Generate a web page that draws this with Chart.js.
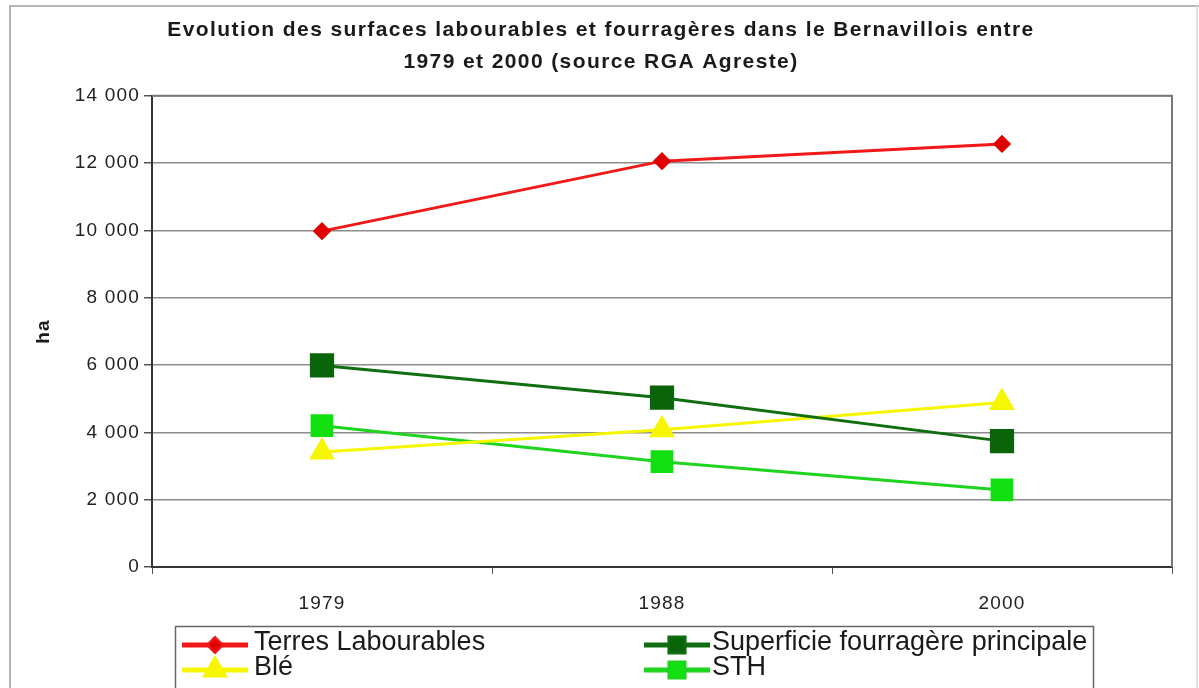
<!DOCTYPE html>
<html>
<head>
<meta charset="utf-8">
<script src="https://cdn.jsdelivr.net/npm/chart.js@4/dist/chart.umd.min.js"></script>
<style>
  html, body { margin: 0; padding: 0; background: #fff; }
  #wrap { width: 1199px; height: 688px; position: relative; }
</style>
</head>
<body>
<div id="wrap"><canvas id="lineChart" width="1199" height="688"></canvas></div>
<script>
const years = ['1979', '1988', '2000'];
const terresLabourables = [9980, 12060, 12570];
const superficieFourragere = [5990, 5030, 3740];
const ble = [3420, 4080, 4890];
const sth = [4200, 3130, 2290];
const yTicks = [0, 2000, 4000, 6000, 8000, 10000, 12000, 14000];

const FONT = '"Liberation Sans", Arial, sans-serif';

function fmt(v) {
    return String(v).replace(/\B(?=(\d{3})+(?!\d))/g, ' ');
}

// frame, plot border and legend box drawn around the chart
const decorations = {
    id: 'decorations',
    afterLayout(chart) {
        const tb = chart.titleBlock;
        if (tb && !tb._spaced) {
            const orig = tb.draw.bind(tb);
            tb.draw = function () {
                const prev = chart.ctx.letterSpacing;
                chart.ctx.letterSpacing = '1.4px';
                orig();
                chart.ctx.letterSpacing = prev;
            };
            tb._spaced = true;
        }
    },
    beforeDraw(chart) {
        const ctx = chart.ctx;
        ctx.save();
        ctx.fillStyle = '#fff';
        ctx.fillRect(0, 0, chart.width, chart.height);
        ctx.strokeStyle = '#b4b4b4';
        ctx.lineWidth = 2;
        ctx.beginPath();
        ctx.moveTo(10, 688);
        ctx.lineTo(10, 6);
        ctx.lineTo(1199, 6);
        ctx.stroke();
        ctx.strokeStyle = '#e0e0e0';
        ctx.beginPath();
        ctx.moveTo(1197, 6);
        ctx.lineTo(1197, 688);
        ctx.stroke();
        ctx.restore();
        ctx.letterSpacing = '1.2px';
    },
    afterDraw(chart) {
        const ctx = chart.ctx;
        const a = chart.chartArea;
        ctx.save();
        ctx.strokeStyle = '#777';
        ctx.lineWidth = 2;
        ctx.beginPath();
        ctx.moveTo(a.left, a.top);
        ctx.lineTo(a.right, a.top);
        ctx.lineTo(a.right, a.bottom);
        ctx.stroke();

        // legend
        ctx.strokeStyle = '#666';
        ctx.lineWidth = 1.5;
        ctx.strokeRect(175.5, 626.5, 918, 80);
        const cols = [{x0: 182, x1: 248, tx: 254}, {x0: 644, x1: 710, tx: 712}];
        const rows = [645, 670];
        chart.data.datasets.forEach((ds, i) => {
            const c = cols[i % 2];
            const y = rows[Math.floor(i / 2)];
            ctx.strokeStyle = ds.borderColor;
            ctx.lineWidth = 5;
            ctx.beginPath();
            ctx.moveTo(c.x0, y);
            ctx.lineTo(c.x1, y);
            ctx.stroke();
            Chart.helpers.drawPoint(ctx, {
                pointStyle: ds.pointStyle,
                rotation: 0,
                radius: ds.legendRadius,
                borderWidth: 1
            }, (c.x0 + c.x1) / 2, y);
            ctx.fillStyle = ds.pointBackgroundColor;
            ctx.fill();
            ctx.fillStyle = '#1a1a1a';
            ctx.font = '27px ' + FONT;
            ctx.letterSpacing = '0px';
            ctx.textBaseline = 'middle';
            ctx.textAlign = 'left';
            ctx.fillText(ds.label, c.tx, y - 2);
        });
        ctx.restore();
        ctx.letterSpacing = '0px';
    }
};

const ctx = document.getElementById('lineChart').getContext('2d');
new Chart(ctx, {
    type: 'line',
    data: {
        labels: years,
        datasets: [{
            label: 'Terres Labourables',
            data: terresLabourables,
            borderColor: '#f01818',
            backgroundColor: '#e00000',
            pointBackgroundColor: '#e00000',
            pointBorderColor: '#e00000',
            pointStyle: 'rectRot',
            pointRadius: 7,
            legendRadius: 6,
            borderWidth: 3
        }, {
            label: 'Superficie fourragère principale',
            data: superficieFourragere,
            borderColor: '#106e10',
            backgroundColor: '#0a640a',
            pointBackgroundColor: '#0a640a',
            pointBorderColor: '#0a640a',
            pointStyle: 'rect',
            pointRadius: 15,
            legendRadius: 10,
            borderWidth: 3
        }, {
            label: 'Blé',
            data: ble,
            borderColor: '#f6f600',
            backgroundColor: '#f6f600',
            pointBackgroundColor: '#f6f600',
            pointBorderColor: '#f6f600',
            pointStyle: 'triangle',
            pointRadius: 12,
            legendRadius: 10,
            borderWidth: 3
        }, {
            label: 'STH',
            data: sth,
            borderColor: '#1ed41e',
            backgroundColor: '#10e010',
            pointBackgroundColor: '#10e010',
            pointBorderColor: '#10e010',
            pointStyle: 'rect',
            pointRadius: 14,
            legendRadius: 10,
            borderWidth: 3
        }]
    },
    options: {
        responsive: false,
        animation: false,
        layout: { padding: { left: 30, right: 27, top: 0, bottom: 0 } },
        plugins: {
            legend: { display: false },
            tooltip: { enabled: false },
            title: {
                display: true,
                text: ['Evolution des surfaces labourables et fourragères dans le Bernavillois entre',
                       '1979 et 2000 (source RGA Agreste)'],
                color: '#1a1a1a',
                font: { family: FONT, size: 21, weight: 'bold', lineHeight: 1.52 },
                padding: { top: 14, bottom: 18 }
            }
        },
        scales: {
            x: {
                offset: true,
                grid: {
                    offset: true,
                    drawOnChartArea: false,
                    color: '#333',
                    tickLength: 7,
                    tickColor: '#555'
                },
                border: { color: '#333', width: 2 },
                ticks: { color: '#222', padding: 18, font: { family: FONT, size: 19 } },
                afterFit(scale) { scale.height = 121; }
            },
            y: {
                min: 0,
                max: 14000,
                afterBuildTicks(scale) { scale.ticks = yTicks.map(v => ({ value: v })); },
                grid: { color: '#8c8c8c', lineWidth: 1.5, tickLength: 8, tickColor: '#555' },
                border: { color: '#333', width: 2 },
                ticks: {
                    color: '#222',
                    padding: 4,
                    font: { family: FONT, size: 19 },
                    callback: v => fmt(v)
                },
                title: {
                    display: true,
                    text: 'ha',
                    color: '#1a1a1a',
                    font: { family: FONT, size: 19, weight: 'bold' },
                    padding: { top: 2, bottom: 0 }
                },
                afterFit(scale) { scale.width = 122; }
            }
        }
    },
    plugins: [decorations]
});
</script>
</body>
</html>
